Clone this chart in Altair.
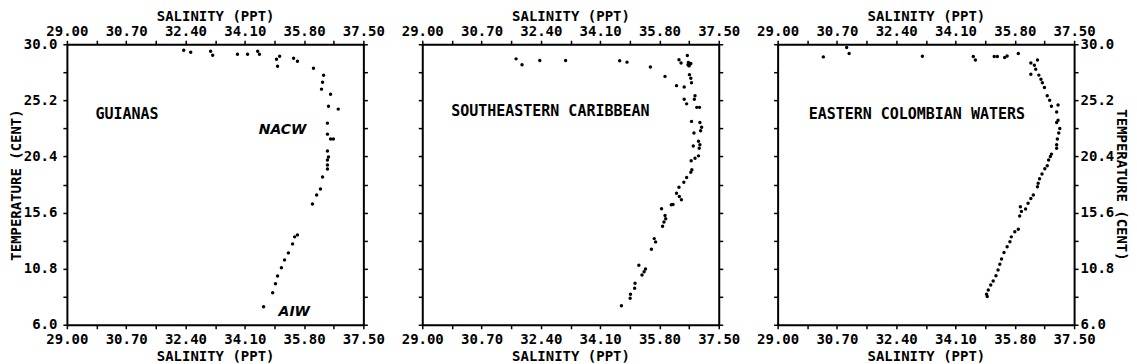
import altair as alt
import pandas as pd

# ---------------- data ----------------
guianas_sal = [32.35, 32.55, 33.12, 33.18, 33.89, 34.18, 34.47, 34.52, 35.10, 35.01,
               35.04, 35.50, 35.61, 36.07, 36.36, 36.33, 36.30, 36.56, 36.50, 36.78,
               36.47, 36.47, 36.64, 36.56, 36.47, 36.50, 36.47, 36.47, 36.47, 36.33,
               36.27, 36.16, 36.04, 35.61, 35.53, 35.47, 35.35, 35.24, 35.15, 35.04,
               34.98, 34.90, 34.64]
guianas_temp = [29.49, 29.32, 29.40, 29.06, 29.15, 29.15, 29.40, 29.15, 28.98, 28.72,
                28.12, 28.80, 28.55, 27.95, 27.35, 26.75, 26.16, 25.73, 24.70, 24.45,
                23.25, 22.31, 21.89, 21.89, 20.86, 20.35, 20.09, 19.67, 19.32, 18.64,
                17.62, 17.10, 16.33, 13.69, 13.52, 12.92, 12.15, 11.55, 10.87, 10.18,
                9.50, 8.73, 7.54]

carib_sal = [31.69, 31.86, 32.37, 33.11, 34.66, 34.87, 35.54, 35.96, 36.29, 36.51,
             36.36, 36.42, 36.60, 36.63, 36.68, 36.65, 36.70, 36.62, 36.70, 36.72,
             36.66, 36.82, 36.80, 36.51, 36.58, 36.87, 36.95, 36.72, 36.96, 37.01,
             36.98, 36.79, 36.92, 36.96, 36.77, 36.94, 36.92, 36.82, 36.71, 36.73,
             36.70, 36.58, 36.50, 36.36, 36.29, 36.37, 36.43, 36.19, 36.14, 35.86,
             35.96, 35.98, 35.93, 35.89, 35.65, 35.69, 35.57, 35.21, 35.40, 35.36,
             35.30, 35.10, 35.09, 34.97, 34.96, 34.71]
carib_temp = [28.75, 28.24, 28.61, 28.61, 28.58, 28.47, 28.05, 27.25, 26.46, 26.35,
              28.67, 28.39, 29.04, 28.45, 28.30, 28.15, 28.35, 28.25, 27.10, 26.70,
              27.40, 25.60, 25.30, 25.30, 24.90, 24.60, 24.60, 23.40, 23.30, 22.90,
              22.60, 22.40, 21.70, 21.40, 21.30, 21.10, 20.45, 20.25, 20.03, 19.26,
              19.04, 18.60, 18.20, 17.76, 17.25, 16.97, 16.69, 16.29, 16.26, 15.92,
              15.35, 15.07, 14.79, 14.42, 13.37, 13.09, 12.46, 11.10, 10.77, 10.54,
              10.26, 9.55, 9.12, 8.61, 8.27, 7.62]

colomb_sal = [30.31, 30.98, 31.05, 33.15, 34.61, 34.67, 35.21, 35.30, 35.51, 35.58,
              35.90, 36.45, 36.36, 36.26, 36.40, 36.26, 36.49, 36.55, 36.59, 36.65,
              36.73, 36.80, 36.85, 37.04, 37.00, 37.04, 37.00, 37.09, 37.06, 37.02,
              37.00, 37.00, 36.85, 36.82, 36.77, 36.73, 36.66, 36.58, 36.51, 36.47,
              36.45, 36.33, 36.26, 36.18, 36.11, 35.99, 35.94, 35.96, 35.90, 35.80,
              35.70, 35.66, 35.58, 35.49, 35.42, 35.37, 35.32, 35.26, 35.18, 35.11,
              35.04, 34.99, 35.01]
colomb_temp = [28.92, 29.72, 29.20, 28.98, 28.95, 28.66, 28.95, 28.95, 28.86, 29.00,
               29.20, 28.66, 28.20, 28.40, 27.87, 27.44, 27.36, 27.00, 26.70, 26.30,
               25.60, 25.20, 24.70, 24.80, 24.20, 23.50, 23.30, 22.80, 22.40, 21.90,
               21.40, 21.10, 20.60, 20.40, 20.10, 19.60, 19.35, 18.90, 18.50, 18.10,
               17.80, 17.10, 16.80, 16.40, 15.90, 15.70, 15.30, 16.10, 14.18, 13.95,
               13.52, 13.10, 12.67, 12.19, 11.63, 11.17, 10.68, 10.20, 9.74, 9.40,
               8.98, 8.61, 8.41]

region_names = ["GUIANAS", "SOUTHEASTERN CARIBBEAN", "EASTERN COLOMBIAN WATERS"]
region_sal = [29.82, 29.83, 29.89]
region_temp = [24.07, 24.28, 24.03]

water_mass_names = ["NACW", "AIW"]
water_mass_sal = [34.50, 35.07]
water_mass_temp = [22.66, 7.11]

x_tick_values = [round(29.0 + 0.85 * i, 2) for i in range(11)]
y_tick_values = [round(6.0 + 2.4 * i, 1) for i in range(11)]

# ---------------- styling ----------------
FONT = "DejaVu Sans Mono"
W, H = 297, 281
xscale = alt.Scale(domain=[29.0, 37.5], nice=False, zero=False)
yscale = alt.Scale(domain=[6.0, 30.0], nice=False, zero=False)

x_label_expr = "(round((datum.value - 29) / 0.85) % 2 == 0) ? format(datum.value, '.2f') : ''"
y_label_expr = "(round((datum.value - 6) / 2.4) % 2 == 0) ? format(datum.value, '.1f') : ''"

common = dict(grid=False, domain=True, domainColor="black", domainWidth=2,
              tickColor="black", tickWidth=1.5, tickSize=4,
              labelFont=FONT, labelFontWeight="bold", labelFontSize=14, labelColor="black",
              titleFont=FONT, titleFontWeight="bold", titleFontSize=14, titleColor="black",
              labelFlush=False, labelOverlap=False)


def x_axis(orient):
    if orient == "top":
        return alt.Axis(orient="top", values=x_tick_values, labelExpr=x_label_expr,
                        title="SALINITY (PPT)", labelPadding=2, titlePadding=1, **common)
    return alt.Axis(orient="bottom", values=x_tick_values, labelExpr=x_label_expr,
                    title="SALINITY (PPT)", labelPadding=4, titlePadding=3, **common)


def y_axis(orient, labelled):
    if labelled:
        pad = 6 if orient == "left" else 2
        return alt.Axis(orient=orient, values=y_tick_values, labelExpr=y_label_expr,
                        title="TEMPERATURE (CENT)", labelPadding=pad, titlePadding=0, **common)
    return alt.Axis(orient=orient, values=y_tick_values, labels=False, title=None, **common)


def panel(sal, temp, idx, left_lab, right_lab, extra=None):
    pts = pd.DataFrame({"sal": sal, "temp": temp})
    lab = pd.DataFrame({"sal": [region_sal[idx]], "temp": [region_temp[idx]],
                        "name": [region_names[idx]]})
    points = alt.Chart(pts).mark_circle(size=12, color="black", opacity=1).encode(
        x=alt.X("sal:Q", scale=xscale, axis=x_axis("bottom")),
        y=alt.Y("temp:Q", scale=yscale, axis=y_axis("left", left_lab)),
    )
    text = alt.Chart(lab).mark_text(align="left", baseline="middle", font=FONT,
                                    fontWeight="bold", fontSize=15, color="black").encode(
        x=alt.X("sal:Q", scale=xscale, axis=x_axis("top")),
        y=alt.Y("temp:Q", scale=yscale, axis=y_axis("right", right_lab)),
        text="name:N",
    )
    layers = [points, text]
    if extra is not None:
        layers.append(extra)
    return alt.layer(*layers).properties(width=W, height=H)


wm = pd.DataFrame({"sal": water_mass_sal, "temp": water_mass_temp, "name": water_mass_names})
wm_text = alt.Chart(wm).mark_text(align="left", baseline="middle", font="DejaVu Sans",
                                  fontWeight="bold", fontStyle="italic", fontSize=14,
                                  color="black").encode(
    x=alt.X("sal:Q", scale=xscale, axis=None),
    y=alt.Y("temp:Q", scale=yscale, axis=None),
    text="name:N",
)

p1 = panel(guianas_sal, guianas_temp, 0, True, False, wm_text)
p2 = panel(carib_sal, carib_temp, 1, False, False)
p3 = panel(colomb_sal, colomb_temp, 2, False, True)

chart = alt.hconcat(p1, p2, p3, spacing=59, bounds="flush").properties(
    padding={"left": 0, "top": 0, "right": 0, "bottom": 0}
).configure_view(stroke="black", strokeWidth=2).configure(background="white")

chart.save("out.html", embed_options={"renderer": "svg", "actions": False})
